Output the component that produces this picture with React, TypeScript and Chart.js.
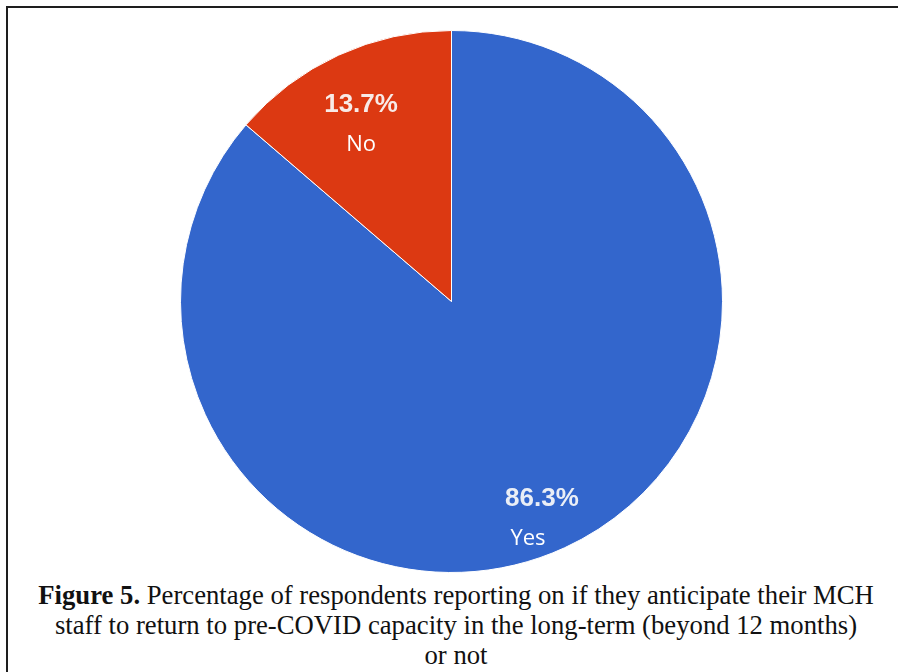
import React, { useEffect, useRef } from "react";
import { Chart, registerables } from "chart.js";

Chart.register(...registerables);

const categories = ["Yes", "No"];
const values = [86.3, 13.7];
const colors = ["#3366CC", "#DC3912"];

const captionBold = "Figure 5.";
const captionLines = [
  " Percentage of respondents reporting on if they anticipate their MCH",
  "staff to return to pre-COVID capacity in the long-term (beyond 12 months)",
  "or not",
];

// label layout constants (style, not data)
const PCT_RADIUS_RATIO = 0.8;
const NAME_DY = 40;
const NAME_DX = [-14, 0];

const labelPlugin = {
  id: "sliceLabels",
  afterDatasetsDraw(chart: any) {
    const ctx = chart.ctx as CanvasRenderingContext2D;
    const meta = chart.getDatasetMeta(0);
    const data = chart.data.datasets[0].data as number[];
    const total = data.reduce((a, b) => a + b, 0);
    meta.data.forEach((arc: any, i: number) => {
      const { x, y, startAngle, endAngle, outerRadius } = arc.getProps(
        ["x", "y", "startAngle", "endAngle", "outerRadius"],
        true
      );
      const mid = (startAngle + endAngle) / 2;
      const r = outerRadius * PCT_RADIUS_RATIO;
      const px = x + Math.cos(mid) * r;
      const py = y + Math.sin(mid) * r;
      ctx.save();
      ctx.textAlign = "center";
      ctx.textBaseline = "middle";
      ctx.fillStyle = "rgba(250,250,250,0.92)";
      ctx.font = "bold 26px 'Liberation Sans', Arial, sans-serif";
      ctx.fillText(((data[i] / total) * 100).toFixed(1) + "%", px, py);
      ctx.fillStyle = "#ffffff";
      ctx.font = "22px 'Open Sans', 'Noto Sans', sans-serif";
      ctx.fillText(chart.data.labels[i], px + NAME_DX[i], py + NAME_DY);
      ctx.restore();
    });
  },
};

export default function App() {
  const canvasRef = useRef<HTMLCanvasElement | null>(null);

  useEffect(() => {
    if (!canvasRef.current) return;
    const chart = new Chart(canvasRef.current, {
      type: "pie",
      data: {
        labels: categories,
        datasets: [
          {
            data: values,
            backgroundColor: colors,
            borderColor: "#ffffff",
            borderWidth: 1,
            hoverOffset: 0,
          },
        ],
      },
      options: {
        responsive: false,
        animation: false,
        maintainAspectRatio: false,
        layout: { padding: 0 },
        plugins: {
          legend: { display: false },
          tooltip: { enabled: false },
          title: { display: false },
        },
      },
      plugins: [labelPlugin],
    });
    return () => chart.destroy();
  }, []);

  return (
    <div
      style={{
        position: "fixed",
        left: 0,
        top: 0,
        width: 898,
        height: 672,
        background: "#ffffff",
        overflow: "hidden",
      }}
    >
      <div
        style={{
          position: "absolute",
          left: 6,
          top: 6,
          width: 900,
          height: 700,
          border: "2px solid #1e1e1e",
          boxSizing: "border-box",
        }}
      />
      <canvas
        ref={canvasRef}
        width={543}
        height={543}
        style={{ position: "absolute", left: 180, top: 30, width: 543, height: 543 }}
      />
      <div
        style={{
          position: "absolute",
          left: 6,
          top: 580,
          width: 900,
          textAlign: "center",
          fontFamily: "'Liberation Serif', 'Times New Roman', serif",
          fontSize: 26.7,
          lineHeight: "30px",
          color: "#111",
          whiteSpace: "nowrap",
        }}
      >
        <div>
          <b>{captionBold}</b>
          {captionLines[0]}
        </div>
        <div>{captionLines[1]}</div>
        <div>{captionLines[2]}</div>
      </div>
    </div>
  );
}
